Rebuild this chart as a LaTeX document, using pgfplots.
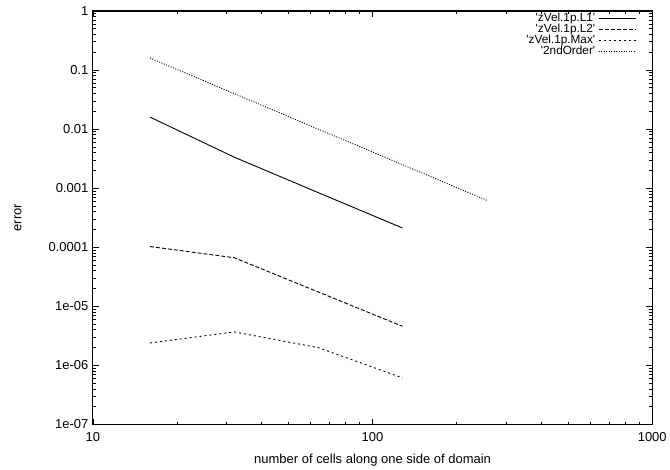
\documentclass[border=0pt]{standalone}
\usepackage{fontspec}
\setmainfont{Liberation Sans}[Ligatures=TeXOff]
\usepackage{pgfplots}
\pgfplotsset{compat=1.18}
\begin{document}
\begin{tikzpicture}
\begin{axis}[
  scale only axis,
  width=560pt, height=414pt,
  xmode=log, ymode=log,
  xmin=10, xmax=1000, ymin=1e-7, ymax=1,
  clip=false,
  axis line style={line width=1.1pt},
  every tick/.style={black, line width=0.8pt},
  major tick length=6pt, minor tick length=3pt,
  tick align=inside,
  xtick={10,100,1000},
  xticklabels={10,100,1000},
  ytick={1e-7,1e-6,1e-5,1e-4,1e-3,1e-2,1e-1,1},
  yticklabels={1e-07,1e-06,1e-05,0.0001,0.001,0.01,0.1,1},
  tick label style={font=\fontsize{13}{15}\selectfont},
  xticklabel style={yshift=-4.5pt},
  yticklabel style={xshift=-1pt},
  xlabel={number of cells along one side of domain},
  ylabel={error},
  every axis x label/.style={at={(rel axis cs:0.5,-0.085)}, anchor=center, font=\fontsize{13}{15}\selectfont},
  every axis y label/.style={at={(rel axis cs:-0.134,0.5)}, anchor=center, rotate=90, font=\fontsize{13}{15}\selectfont},
  legend style={font=\fontsize{11.8}{14}\selectfont, draw=none, fill=none,
    at={(rel axis cs:0.9714,0.993)}, anchor=north east, inner sep=0pt,
    row sep=3pt, column sep=3pt,
    nodes={inner sep=0pt, text height=7pt, text depth=1pt}},
  legend cell align=right,
  legend plot pos=right,
  legend image code/.code={\draw[#1] (0pt,0pt) -- (37pt,0pt);},
]
\path (rel axis cs:-0.1661,-0.1087) rectangle (rel axis cs:1.0304,1.0266);
\addplot[black, line width=0.9pt] coordinates {(16,0.016) (32,0.00336) (64,0.00084) (128,0.000212)};
\addlegendentry{'zVel.1p.L1'}
\addplot[black, line width=0.9pt, dash pattern=on 4pt off 2pt] coordinates {(16,1.03e-4) (32,6.66e-5) (64,1.75e-5) (128,4.59e-6)};
\addlegendentry{'zVel.1p.L2'}
\addplot[black, line width=0.9pt, dash pattern=on 2pt off 3pt] coordinates {(16,2.4e-6) (32,3.69e-6) (64,2.0e-6) (128,6.15e-7)};
\addlegendentry{'zVel.1p.Max'}
\addplot[black, line width=0.9pt, dash pattern=on 1pt off 1.5pt] coordinates {(16,0.16) (32,0.04) (64,0.01) (128,0.0025) (256,0.000625)};
\addlegendentry{'2ndOrder'}
\end{axis}
\end{tikzpicture}
\end{document}
